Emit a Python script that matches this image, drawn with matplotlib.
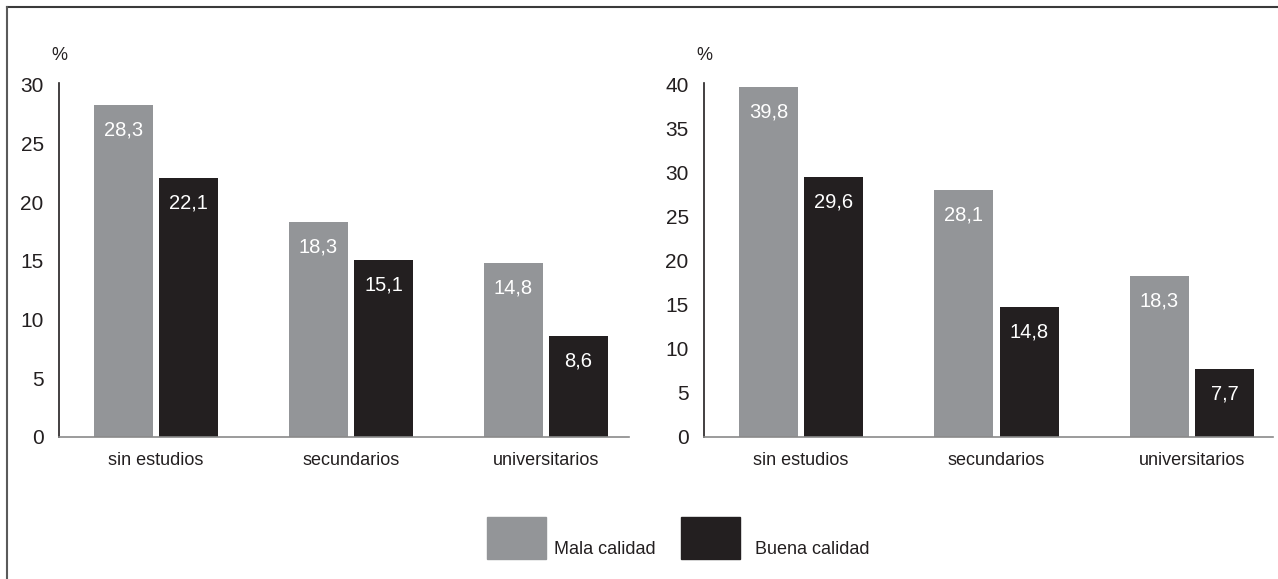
import numpy as np
import matplotlib
matplotlib.use("Agg")
import matplotlib.pyplot as plt
from matplotlib.patches import Rectangle
from matplotlib.lines import Line2D

plt.rcParams['font.family'] = ['Liberation Sans Narrow', 'Liberation Sans', 'DejaVu Sans']

categories = ['sin estudios', 'secundarios', 'universitarios']
mala_left = [28.3, 18.3, 14.8]
buena_left = [22.1, 15.1, 8.6]
mala_right = [39.8, 28.1, 18.3]
buena_right = [29.6, 14.8, 7.7]
series_names = ['Mala calidad', 'Buena calidad']
yticks_left = [0, 5, 10, 15, 20, 25, 30]
yticks_right = [0, 5, 10, 15, 20, 25, 30, 35, 40]

GRAY = '#939598'
BLACK = '#231f20'
FS = 14

fig = plt.figure(figsize=(12.78, 5.79), dpi=100)


def fmt(v):
    return f"{v:.1f}".replace('.', ',')


def panel(rect, mala, buena, yticks, xright):
    ax = fig.add_axes(rect)
    x = np.arange(len(categories))
    w = 0.303
    off = 0.167
    b1 = ax.bar(x - off, mala, w, color=GRAY)
    b2 = ax.bar(x + off, buena, w, color=BLACK)
    top = yticks[-1]
    px_per_unit = rect[3] * 579 / top
    for bars, vals in ((b1, mala), (b2, buena)):
        for b, v in zip(bars, vals):
            ax.text(b.get_x() + b.get_width() / 2, v - 25 / px_per_unit, fmt(v),
                    ha='center', va='center', color='white', fontsize=FS + 0.5)
    ax.set_xlim(-0.497, xright)
    ax.set_ylim(0, top)
    ax.set_yticks(yticks)
    ax.set_yticklabels([str(t) for t in yticks], fontsize=FS + 1, color=BLACK)
    ax.set_xticks(x)
    ax.set_xticklabels(categories, fontsize=FS - 1, color=BLACK)
    ax.tick_params(length=0)
    ax.tick_params(axis='y', pad=11)
    ax.tick_params(axis='x', pad=11)
    for s in ('top', 'right'):
        ax.spines[s].set_visible(False)
    ax.spines['left'].set_color(BLACK)
    ax.spines['left'].set_linewidth(1.2)
    ax.spines['bottom'].set_color('#8a8a8a')
    ax.spines['bottom'].set_linewidth(1.2)
    ax.spines['left'].set_bounds(0, top + 2.5 / px_per_unit)
    ax.text(0, 1.06, '%', transform=ax.transAxes, ha='center', va='bottom',
            fontsize=FS - 1, color=BLACK)
    return ax


panel([59 / 1278, 1 - 437 / 579, 570 / 1278, 352 / 579], mala_left, buena_left, yticks_left, 2.426)
panel([704 / 1278, 1 - 437 / 579, 569 / 1278, 352 / 579], mala_right, buena_right, yticks_right, 2.415)

# legend
W, H = 1278, 579
for x0, col, label, tx in ((487, GRAY, series_names[0], 554), (681, BLACK, series_names[1], 755)):
    fig.patches.append(Rectangle((x0 / W, 1 - 559 / H), 59 / W, 42 / H,
                                 transform=fig.transFigure, color=col))
    fig.text(tx / W, 1 - 549 / H, label, ha='left', va='center', fontsize=FS - 1, color=BLACK)

# frame (top and left edges)
fig.add_artist(Line2D([6.5 / W, 1], [1 - 7 / H, 1 - 7 / H], transform=fig.transFigure,
                      color='#3a3a3a', lw=1.5))
fig.add_artist(Line2D([6.5 / W, 6.5 / W], [0, 1 - 7 / H], transform=fig.transFigure,
                      color='#5a5a5a', lw=1.5))

fig.savefig('out.png', dpi=100, facecolor='white')
